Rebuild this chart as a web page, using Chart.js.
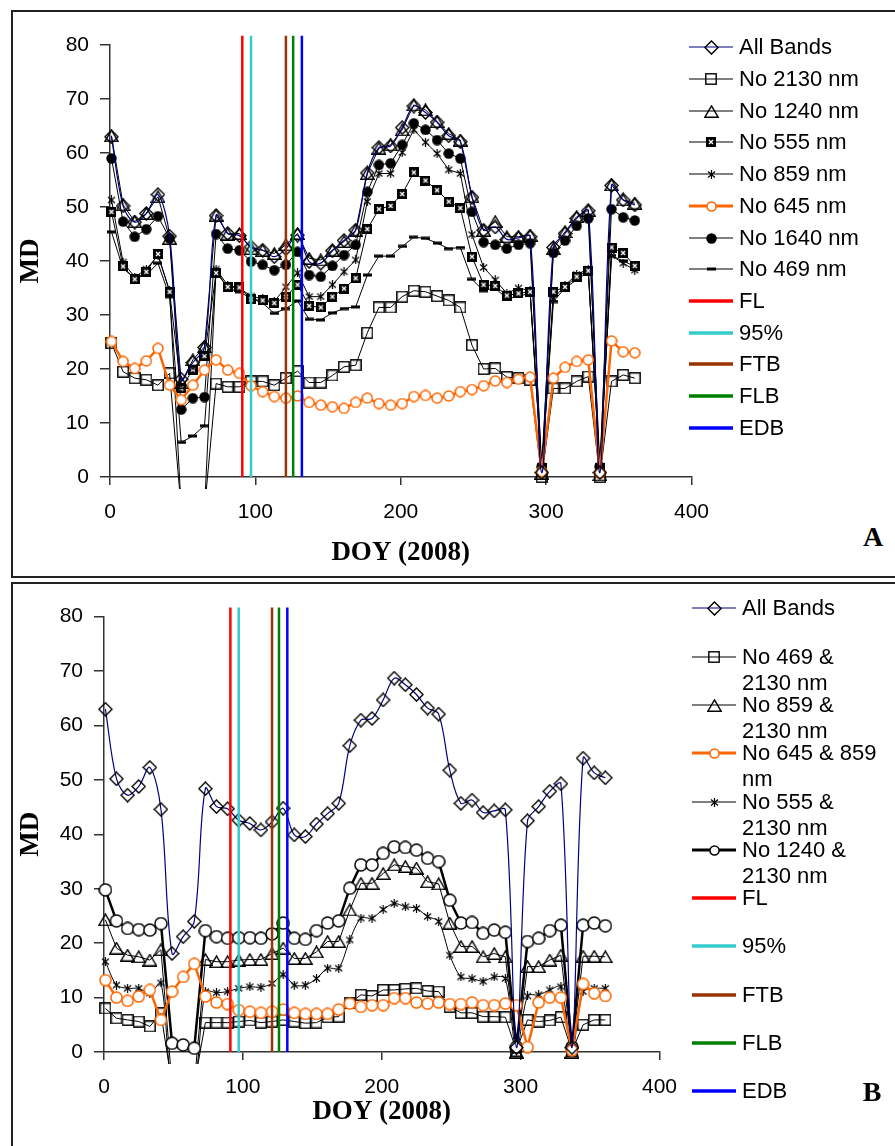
<!DOCTYPE html>
<html>
<head>
<meta charset="utf-8">
<title>MD by DOY (2008)</title>
<script src="https://cdn.jsdelivr.net/npm/chart.js@4.4.1/dist/chart.umd.min.js"></script>
<style>
  html, body { margin: 0; padding: 0; background: #fff; }
  body { position: relative; width: 895px; height: 1146px; overflow: hidden; font-family: "Liberation Sans", Arial, sans-serif; }
  .frame { position: absolute; border: 2px solid #222; box-sizing: border-box; }
  canvas.chart { position: absolute; }
  .legend { position: absolute; left: 0; top: 0; }
  .item { position: absolute; height: 26px; }
  .item canvas { position: absolute; left: 0; top: 0; }
  .item span { position: absolute; top: 0; left: 51px; font-size: 22px; line-height: 26px; color: #000; }
  .tag { position: absolute; font: bold 28px "Liberation Serif", "Times New Roman", serif; line-height: 28px; transform: translate(-50%, -50%); color: #000; }
</style>
</head>
<body>
<div class="frame" style="left:11px; top:10px; width:900px; height:568px;"></div>
<div class="frame" style="left:11px; top:582px; width:900px; height:600px;"></div>
<canvas id="chartA" class="chart" width="712" height="560" style="left:12px; top:12px;"></canvas>
<canvas id="chartB" class="chart" width="680" height="556" style="left:12px; top:590px;"></canvas>
<div id="legendA" class="legend"></div>
<div id="legendB" class="legend"></div>
<div class="tag" style="left:873px; top:537px;">A</div>
<div class="tag" style="left:872px; top:1092px;">B</div>

<script>
// 8-day composite periods, day of year 2008
const DOY = [1, 9, 17, 25, 33, 41, 49, 57, 65, 73, 81, 89, 97, 105, 113, 121, 129,
             137, 145, 153, 161, 169, 177, 185, 193, 201, 209, 217, 225, 233, 241, 249, 257,
             265, 273, 281, 289, 297, 305, 313, 321, 329, 337, 345, 353, 361];

const X_TICKS = [0, 100, 200, 300, 400];
const Y_TICKS = [0, 10, 20, 30, 40, 50, 60, 70, 80];

// MD with all bands (shared by both panels)
const ALL_BANDS = [63.0, 50.2, 47.2, 48.8, 52.3, 44.6, 18.1, 21.2, 24.0, 48.4, 45.1, 44.7, 42.6, 42.0, 40.8, 42.3, 44.8,
                   39.9, 39.6, 41.9, 43.8, 45.7, 56.3, 61.0, 61.3, 64.7, 68.7, 67.5, 65.7, 63.2, 62.1, 51.8, 45.7,
                   46.3, 44.0, 44.3, 44.5, 0.8, 42.5, 45.1, 47.9, 49.3, 0.8, 54.0, 51.3, 50.4];

// Panel A: one band removed
const NO_2130 = [24.8, 19.5, 18.3, 18.0, 17.0, 19.2, -6, -6, -6, 17.3, 16.7, 16.7, 17.7, 17.7, 17.0, 18.3, 19.6,
                 17.5, 17.5, 18.8, 20.4, 20.7, 26.7, 31.4, 31.4, 33.4, 34.5, 34.3, 33.5, 32.7, 31.4, 24.4, 20.0,
                 20.1, 18.5, 18.3, 18.0, 0.0, 16.4, 16.4, 17.7, 18.6, 0.0, 17.7, 18.9, 18.3];
const NO_1240 = [63.2, 50.4, 47.3, 48.8, 51.9, 44.2, 17.5, 21.7, 24.1, 48.5, 45.0, 45.1, 42.3, 42.0, 41.4, 43.0, 45.1,
                 40.5, 40.2, 42.0, 43.6, 45.7, 56.2, 60.9, 61.5, 64.3, 68.9, 68.0, 65.8, 63.6, 62.4, 51.9, 45.7,
                 47.3, 44.5, 44.5, 44.8, 0.7, 42.3, 45.4, 48.2, 49.4, 0.4, 54.1, 51.3, 50.7];
const NO_555 = [49.1, 39.0, 36.6, 38.0, 41.3, 34.3, 16.4, 19.9, 22.4, 37.8, 35.2, 35.1, 32.9, 32.7, 32.2, 33.4, 35.6,
                31.7, 31.4, 33.4, 34.9, 36.8, 45.9, 49.6, 50.2, 52.4, 56.4, 54.9, 53.1, 51.0, 49.8, 40.8, 35.6,
                35.4, 33.6, 34.0, 34.3, 1.6, 34.3, 35.2, 37.1, 38.2, 1.6, 42.5, 41.5, 39.1];
const NO_859 = [51.3, 39.8, 37.0, 38.5, 41.0, 34.5, -6, -6, -6, 38.5, 35.5, 35.0, 33.5, 33.0, 32.5, 35.2, 37.8,
                33.4, 33.4, 35.6, 38.0, 40.2, 51.0, 56.2, 56.2, 60.1, 64.3, 62.0, 59.9, 56.9, 56.2, 44.9, 38.8,
                36.5, 34.0, 35.0, 34.5, 1.5, 33.0, 35.5, 37.5, 38.5, 1.2, 41.0, 39.6, 38.3];
const NO_645 = [25.1, 21.4, 20.1, 21.5, 23.8, 17.0, 14.3, 17.0, 19.8, 21.7, 19.8, 19.2, 16.9, 15.8, 14.9, 14.6, 15.0,
                13.8, 13.3, 13.0, 12.7, 13.8, 14.6, 13.6, 13.3, 13.6, 14.9, 15.1, 14.6, 15.0, 15.8, 16.2, 16.9,
                17.8, 17.5, 18.1, 18.5, 1.0, 18.3, 20.3, 21.4, 21.7, 0.7, 25.2, 23.2, 23.0];
const NO_1640 = [59.0, 47.3, 44.5, 45.9, 48.3, 44.2, 12.5, 14.6, 14.8, 45.0, 42.3, 42.0, 39.9, 39.3, 38.3, 39.3, 41.7,
                 37.4, 37.1, 39.1, 41.1, 43.0, 52.8, 57.8, 58.1, 61.5, 65.5, 64.3, 62.4, 59.9, 59.0, 49.1, 43.5,
                 43.0, 42.3, 43.0, 43.3, 1.9, 41.5, 43.8, 46.5, 47.9, 1.9, 49.6, 48.1, 47.5];
const NO_469 = [45.4, 38.6, 36.8, 37.4, 39.6, 33.4, 6.4, 7.6, 9.5, 38.3, 34.9, 34.3, 33.1, 32.2, 30.3, 31.2, 32.6,
                29.2, 29.1, 30.4, 31.2, 31.5, 37.4, 40.9, 40.9, 42.7, 44.4, 44.2, 43.3, 42.3, 42.5, 36.6, 34.5,
                35.0, 33.0, 33.5, 34.0, 1.0, 32.5, 35.0, 36.5, 38.0, 1.0, 41.0, 40.0, 39.0];

// Panel B: two bands removed
const NO_469_2130 = [8.0, 6.2, 5.9, 5.6, 4.7, 7.1, -6, -6, -6, 5.4, 5.4, 5.4, 5.6, 5.8, 5.4, 5.6, 5.9,
                     5.6, 5.3, 5.4, 6.4, 6.5, 9.0, 10.5, 10.3, 11.4, 11.4, 11.6, 11.7, 11.2, 11.1, 8.3, 7.2,
                     7.2, 6.5, 6.5, 6.4, 0.2, 5.9, 5.6, 5.8, 6.4, 0.2, 5.0, 5.9, 5.9];
const NO_859_2130 = [24.3, 19.1, 17.8, 17.5, 16.9, 18.8, -6, -6, -6, 17.0, 16.6, 16.6, 16.9, 17.0, 17.0, 18.1, 19.1,
                     17.2, 17.2, 18.4, 20.3, 20.3, 26.1, 31.0, 31.0, 32.8, 34.4, 34.1, 33.8, 31.3, 30.9, 23.7, 19.4,
                     19.4, 17.5, 18.1, 17.5, 0.0, 15.7, 15.7, 16.9, 17.8, 0.0, 17.6, 17.6, 17.5];
const NO_645_859 = [13.2, 10.0, 9.4, 10.2, 11.4, 5.9, 11.1, 13.8, 16.2, 10.2, 9.1, 8.8, 7.7, 7.4, 7.2, 7.4, 7.8,
                    7.2, 7.0, 7.0, 7.0, 7.8, 8.9, 8.3, 8.6, 8.6, 9.9, 9.9, 9.1, 8.9, 9.1, 8.8, 8.8,
                    9.1, 8.6, 8.6, 8.9, 8.6, 0.9, 9.1, 10.0, 10.0, 0.3, 12.5, 10.8, 10.3];
const NO_555_2130 = [16.6, 12.3, 11.7, 11.7, 10.8, 12.7, -6, -6, -6, 11.1, 10.9, 11.1, 11.7, 12.0, 11.9, 12.6, 14.2,
                     12.3, 12.3, 13.5, 15.4, 15.4, 20.6, 24.6, 24.6, 26.2, 27.3, 26.7, 26.4, 24.9, 24.0, 17.8, 13.8,
                     13.5, 13.0, 13.8, 13.5, 0.3, 10.3, 10.5, 11.4, 12.0, 0.3, 11.1, 11.7, 11.7];
const NO_1240_2130 = [29.8, 24.1, 22.7, 22.5, 22.4, 23.6, 1.6, 1.3, 0.7, 22.3, 21.2, 20.9, 21.0, 21.0, 20.9, 21.7, 23.7,
                      20.9, 20.7, 22.3, 23.7, 24.1, 30.1, 34.4, 34.4, 36.5, 37.7, 37.6, 37.1, 35.6, 35.0, 27.9, 23.7,
                      23.8, 21.8, 22.4, 22.0, 0.9, 20.3, 20.9, 22.3, 23.3, 0.9, 23.3, 23.7, 23.2];

// Phenological dates (vertical markers)
const EVENTS = ['FL', '95%', 'FTB', 'FLB', 'EDB'];
const EVENT_DOY = [91, 97, 121, 126, 132];
const EVENT_COLORS = ['#ff0000', '#33cccc', '#993300', '#008000', '#0000ff'];
const EVENT_TOP = 81.7;

// ---------- marker glyphs ----------
function glyph(w, h, paint) {
  const c = document.createElement('canvas');
  c.width = w; c.height = h;
  paint(c.getContext('2d'), w, h);
  return c;
}
function ring(d, color, lw) {
  return glyph(d, d, (g) => {
    g.beginPath(); g.arc(d / 2, d / 2, d / 2 - lw / 2 - 0.2, 0, Math.PI * 2);
    g.fillStyle = '#fff'; g.fill();
    g.lineWidth = lw; g.strokeStyle = color; g.stroke();
  });
}
const MK = {
  diamond: glyph(15, 15, (g) => {
    g.beginPath(); g.moveTo(7.5, 0.9); g.lineTo(14.1, 7.5); g.lineTo(7.5, 14.1); g.lineTo(0.9, 7.5); g.closePath();
    g.lineWidth = 1.4; g.strokeStyle = '#000'; g.stroke();
  }),
  square: glyph(12, 12, (g) => { g.lineWidth = 1.4; g.strokeStyle = '#000'; g.strokeRect(0.8, 0.8, 10.4, 10.4); }),
  triangle: glyph(15, 13, (g) => {
    g.beginPath(); g.moveTo(7.5, 0.9); g.lineTo(14.1, 12.2); g.lineTo(0.9, 12.2); g.closePath();
    g.lineWidth = 1.4; g.strokeStyle = '#000'; g.stroke();
  }),
  dot: glyph(11, 11, (g) => { g.beginPath(); g.arc(5.5, 5.5, 5.2, 0, Math.PI * 2); g.fillStyle = '#000'; g.fill(); }),
  boxX: glyph(10, 10, (g) => {
    g.fillStyle = '#000'; g.fillRect(0, 0, 10, 10);
    g.strokeStyle = '#fff'; g.lineWidth = 1.4;
    g.beginPath(); g.moveTo(3, 3); g.lineTo(7, 7); g.moveTo(7, 3); g.lineTo(3, 7); g.stroke();
  }),
  star: glyph(9, 9, (g) => {
    g.strokeStyle = '#000'; g.lineWidth = 1.2;
    g.beginPath(); g.moveTo(1, 1.5); g.lineTo(8, 7.5); g.moveTo(8, 1.5); g.lineTo(1, 7.5);
    g.moveTo(4.5, 0); g.lineTo(4.5, 9); g.stroke();
  }),
  dash: glyph(9, 4, (g) => { g.fillStyle = '#000'; g.fillRect(0, 0.5, 9, 3); }),
  ringOrangeA: ring(12, '#ff6600', 1.5),
  ringOrangeB: ring(13, '#ff6600', 1.5),
  ringBlack: ring(14, '#000', 1.5),
  ringOrangeLeg: ring(11, '#ff6600', 1.5),
  ringBlackLeg: ring(11, '#000', 1.5)
};

// ---------- dataset builders ----------
function series(label, values, opts) {
  return Object.assign({
    label,
    data: DOY.map((d, i) => ({ x: d, y: values[i] })),
    borderColor: '#000',
    borderWidth: 1,
    tension: 0,
    pointRadius: 6,
    pointHoverRadius: 6,
    pointBorderWidth: 0,
    clip: { left: 6, right: 6, top: 10, bottom: 12 }
  }, opts);
}
function eventLines() {
  return EVENTS.map((name, i) => ({
    label: name,
    data: [{ x: EVENT_DOY[i], y: 0 }, { x: EVENT_DOY[i], y: EVENT_TOP }],
    borderColor: EVENT_COLORS[i],
    borderWidth: 2.5,
    pointRadius: 0,
    tension: 0,
    clip: false
  }));
}

const seriesA = [
  { label: 'All Bands',   values: ALL_BANDS, color: '#000080', width: 1.2, marker: MK.diamond, tension: 0.35 },
  { label: 'No 2130 nm',  values: NO_2130,   color: '#000',    width: 1,   marker: MK.square },
  { label: 'No 1240 nm',  values: NO_1240,   color: '#000',    width: 1,   marker: MK.triangle },
  { label: 'No 555 nm',   values: NO_555,    color: '#000',    width: 1,   marker: MK.boxX },
  { label: 'No 859 nm',   values: NO_859,    color: '#000',    width: 1,   marker: MK.star },
  { label: 'No 645 nm',   values: NO_645,    color: '#ff6600', width: 2.5, marker: MK.ringOrangeA, legendMarker: MK.ringOrangeLeg, legendWidth: 3 },
  { label: 'No 1640 nm',  values: NO_1640,   color: '#000',    width: 1,   marker: MK.dot },
  { label: 'No 469 nm',   values: NO_469,    color: '#000',    width: 1,   marker: MK.dash }
];
const seriesB = [
  { label: 'All Bands',           values: ALL_BANDS,     color: '#000080', width: 1.2, marker: MK.diamond, tension: 0.35 },
  { label: 'No 469 & 2130 nm',    values: NO_469_2130,   color: '#000',    width: 1,   marker: MK.square },
  { label: 'No 859 & 2130 nm',    values: NO_859_2130,   color: '#000',    width: 1,   marker: MK.triangle },
  { label: 'No 645 & 859 nm',     values: NO_645_859,    color: '#ff6600', width: 2.5, marker: MK.ringOrangeB, legendMarker: MK.ringOrangeLeg, legendWidth: 3 },
  { label: 'No 555 & 2130 nm',    values: NO_555_2130,   color: '#000',    width: 1,   marker: MK.star, tension: 0.3 },
  { label: 'No 1240 & 2130 nm',   values: NO_1240_2130,  color: '#000',    width: 2.5, marker: MK.ringBlack, legendMarker: MK.ringBlackLeg, legendWidth: 3 }
];

function buildDatasets(list, drawOrder) {
  const ds = list.map(s => series(s.label, s.values, {
    borderColor: s.color, borderWidth: s.width, pointStyle: s.marker, tension: s.tension || 0
  }));
  // first dataset in the array is painted last (on top)
  return eventLines().concat(drawOrder.map(i => ds[i]));
}

function makeChart(canvas, datasets, dims) {
  return new Chart(canvas, {
    type: 'line',
    data: { datasets },
    options: {
      responsive: false,
      animation: false,
      devicePixelRatio: 1,
      events: [],
      layout: { padding: { top: dims.padTop, right: dims.padRight, left: 0, bottom: 0 } },
      plugins: { legend: { display: false }, tooltip: { enabled: false } },
      scales: {
        x: {
          type: 'linear', min: 0, max: 400,
          afterBuildTicks: (s) => { s.ticks = X_TICKS.map(v => ({ value: v })); },
          afterFit: (s) => { s.height = dims.xAxisH; },
          grid: { drawOnChartArea: false, drawTicks: true, tickLength: 8, color: '#333', lineWidth: 1.5 },
          border: { display: true, color: '#333', width: 1.5 },
          ticks: { color: '#000', font: { family: 'Liberation Sans', size: 21 }, padding: 15, maxRotation: 0, autoSkip: false },
          title: { display: true, text: 'DOY (2008)', color: '#000',
                   font: { family: 'Liberation Serif', size: 27, weight: 'bold' },
                   padding: { top: 0, bottom: dims.xTitlePad } }
        },
        y: {
          type: 'linear', min: 0, max: 80,
          afterBuildTicks: (s) => { s.ticks = Y_TICKS.map(v => ({ value: v })); },
          afterFit: (s) => { s.width = dims.yAxisW; },
          grid: { drawOnChartArea: false, drawTicks: true, tickLength: 10, color: '#333', lineWidth: 1.5 },
          border: { display: true, color: '#333', width: 1.5 },
          ticks: { color: '#000', font: { family: 'Liberation Sans', size: 21 }, padding: 11 },
          title: { display: true, text: 'MD', color: '#000',
                   font: { family: 'Liberation Serif', size: 27, weight: 'bold' },
                   padding: { top: 3, bottom: 0 } }
        }
      }
    }
  });
}

// Panel A plot: x 0..400 -> 110..700 px, y 0..80 -> 477..45 px (page)
makeChart(document.getElementById('chartA'),
  buildDatasets(seriesA, [0, 5, 2, 6, 3, 4, 7, 1]),
  { padTop: 33, padRight: 24, yAxisW: 98, xAxisH: 95, xTitlePad: 3 });

// Panel B plot: x 0..400 -> 104..661 px, y 0..80 -> 1052..617 px (page)
makeChart(document.getElementById('chartB'),
  buildDatasets(seriesB, [0, 3, 5, 2, 4, 1]),
  { padTop: 26.7, padRight: 31, yAxisW: 92, xAxisH: 94, xTitlePad: 18 });

// ---------- legends ----------
function swatch(color, width, marker) {
  const c = document.createElement('canvas');
  c.width = 46; c.height = 26;
  const g = c.getContext('2d');
  g.strokeStyle = color; g.lineWidth = width;
  g.beginPath(); g.moveTo(1, 13); g.lineTo(45, 13); g.stroke();
  if (marker) g.drawImage(marker, Math.round(23 - marker.width / 2), Math.round(13 - marker.height / 2));
  return c;
}
function buildLegend(el, left, firstY, step, list, textWidth) {
  const items = list.map(s => ({ label: s.label, color: s.color, width: s.legendWidth || Math.max(s.width, 1.2), marker: s.legendMarker || s.marker }))
    .concat(EVENTS.map((n, i) => ({ label: n, color: EVENT_COLORS[i], width: 3.5, marker: null })));
  items.forEach((it, i) => {
    const row = document.createElement('div');
    row.className = 'item';
    row.style.left = left + 'px';
    row.style.top = (firstY + i * step - 13) + 'px';
    row.appendChild(swatch(it.color, it.width, it.marker));
    const t = document.createElement('span');
    t.textContent = it.label;
    if (textWidth) t.style.width = textWidth + 'px'; else t.style.whiteSpace = 'nowrap';
    row.appendChild(t);
    el.appendChild(row);
  });
}
buildLegend(document.getElementById('legendA'), 688, 47.3, 31.7, seriesA, 0);
buildLegend(document.getElementById('legendB'), 691, 608.3, 48.3, seriesB, 142);
</script>
</body>
</html>
